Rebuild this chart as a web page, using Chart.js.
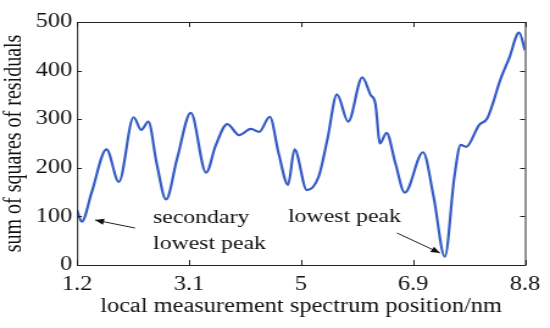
<!DOCTYPE html>
<html>
<head>
<meta charset="utf-8">
<script src="https://cdn.jsdelivr.net/npm/chart.js@4/dist/chart.umd.min.js"></script>
<style>
  html, body { margin: 0; padding: 0; background: #fff; }
  #residualChart { width: 550px; height: 328px; display: block; }
</style>
</head>
<body>
<!-- the reference is stretched sideways, so the canvas is drawn narrow and widened by css -->
<canvas id="residualChart" width="451" height="328" style="width:550px;height:328px"></canvas>
<script>
const positions = [1.2, 1.28, 1.45, 1.70, 1.91, 2.16, 2.29, 2.41, 2.55, 2.71, 2.9, 3.13, 3.39, 3.55, 3.75, 3.95, 4.15, 4.29, 4.47, 4.62, 4.78, 4.89, 5.10, 5.30, 5.45, 5.61, 5.80, 6.04, 6.18, 6.26, 6.34, 6.45, 6.60, 6.76, 7.07, 7.25, 7.44, 7.6, 7.71, 7.8, 8.02, 8.16, 8.39, 8.53, 8.70, 8.8];
const residuals = [113, 89, 150, 238, 171, 304, 278, 295, 210, 135, 220, 313, 190, 245, 290, 267, 280, 274, 305, 230, 165, 238, 154, 182, 260, 351, 295, 386, 350, 333, 250, 272, 210, 149, 232, 140, 17, 180, 247, 243, 288, 302, 384, 425, 478, 442];
const xTicks = [1.2, 3.1, 5, 6.9, 8.8];
const yTicks = [0, 100, 200, 300, 400, 500];

const SX = 550 / 451;
const serif = "'Liberation Serif', 'DejaVu Serif', serif";

// frame with inward ticks on all four sides, plus the two notes
const framePlugin = {
  id: "frame",
  afterDraw(chart) {
    const { ctx, chartArea: a, scales } = chart;
    ctx.save();
    ctx.strokeStyle = "#222";
    ctx.lineWidth = 1;
    ctx.strokeRect(a.left + 0.5, a.top + 0.5, a.right - a.left, a.bottom - a.top);
    ctx.beginPath();
    xTicks.forEach(v => {
      const x = Math.round(scales.x.getPixelForValue(v)) + 0.5;
      ctx.moveTo(x, a.bottom); ctx.lineTo(x, a.bottom - 5);
      ctx.moveTo(x, a.top); ctx.lineTo(x, a.top + 5);
    });
    yTicks.forEach(v => {
      const y = Math.round(scales.y.getPixelForValue(v)) + 0.5;
      ctx.moveTo(a.left, y); ctx.lineTo(a.left + 4, y);
      ctx.moveTo(a.right, y); ctx.lineTo(a.right - 4, y);
    });
    ctx.stroke();

    ctx.fillStyle = "#111";
    ctx.font = "19.5px " + serif;
    ctx.textAlign = "left";
    ctx.fillText("secondary", 153 / SX, 223);
    ctx.fillText("lowest peak", 153 / SX, 249);
    ctx.fillText("lowest peak", 288 / SX, 222);

    function arrow(x1, y1, x2, y2) {
      x1 /= SX; x2 /= SX;
      const ang = Math.atan2(y2 - y1, x2 - x1);
      ctx.beginPath();
      ctx.moveTo(x1, y1); ctx.lineTo(x2, y2);
      ctx.stroke();
      ctx.beginPath();
      ctx.moveTo(x2, y2);
      ctx.lineTo(x2 - 8 * Math.cos(ang - 0.4), y2 - 8 * Math.sin(ang - 0.4));
      ctx.lineTo(x2 - 8 * Math.cos(ang + 0.4), y2 - 8 * Math.sin(ang + 0.4));
      ctx.closePath();
      ctx.fill();
    }
    arrow(135, 228, 95, 220);
    arrow(397, 233, 440, 253);
    ctx.restore();
  }
};

new Chart(document.getElementById("residualChart"), {
  type: "line",
  data: {
    datasets: [{
      data: positions.map((x, i) => ({ x: x, y: residuals[i] })),
      borderColor: "rgb(52, 92, 196)",
      borderWidth: 2.2,
      pointRadius: 0,
      cubicInterpolationMode: "monotone",
      fill: false
    }]
  },
  options: {
    responsive: false,
    animation: false,
    devicePixelRatio: 1,
    layout: { padding: { top: 22, right: 550 / SX - 528 / SX, left: 0, bottom: 0 } },
    plugins: { legend: { display: false }, tooltip: { enabled: false } },
    scales: {
      x: {
        type: "linear",
        min: 1.2,
        max: 8.8,
        afterBuildTicks: s => { s.ticks = xTicks.map(v => ({ value: v })); },
        afterFit: s => { s.height = 63; },
        grid: { display: false, drawTicks: false },
        border: { display: false },
        ticks: { color: "#111", font: { family: serif, size: 20 }, padding: 8, maxRotation: 0 },
        title: { display: true, text: "local measurement spectrum position/nm", color: "#111", font: { family: serif, size: 20 }, padding: { top: 0, bottom: 9 } }
      },
      y: {
        min: 0,
        max: 500,
        afterBuildTicks: s => { s.ticks = yTicks.map(v => ({ value: v })); },
        afterFit: s => { s.width = 77 / SX; },
        grid: { display: false, drawTicks: false },
        border: { display: false },
        ticks: { color: "#111", font: { family: serif, size: 20 }, padding: 4 },
        title: { display: true, text: "sum of squares of residuals", color: "#111", font: { family: serif, size: 20 }, padding: { top: 0, bottom: 0 } }
      }
    }
  },
  plugins: [framePlugin]
});
</script>
</body>
</html>
